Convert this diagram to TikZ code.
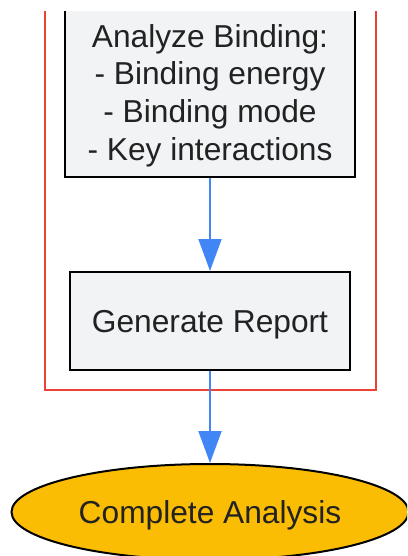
\documentclass[tikz,border=0pt]{standalone}
\usepackage{fontspec}
\setmainfont{Liberation Sans}
\usetikzlibrary{arrows.meta,shapes.geometric}
\definecolor{boxfill}{HTML}{F1F3F4}
\definecolor{txt}{HTML}{222222}
\definecolor{clusterred}{HTML}{EA4335}
\definecolor{flowblue}{HTML}{4285F4}
\definecolor{endyellow}{HTML}{FBBC04}
\tikzset{
  lbl/.style={text=txt, align=center, font=\fontsize{31.7}{37.7}\selectfont,
    inner sep=0pt, yshift=-4pt},
  procbox/.style={draw=black, line width=2pt, fill=boxfill, inner sep=0pt},
  endnode/.style={ellipse, draw=black, line width=2pt, fill=endyellow, inner sep=0pt},
  flow/.style={draw=flowblue, line width=2pt, -{Triangle[length=32pt,width=23pt]}},
  cluster/.style={draw=clusterred, line width=2pt}
}
\begin{document}
\begin{tikzpicture}[x=1pt,y=-1pt]
\useasboundingbox (0,0) rectangle (407,556);
\begin{scope}
\clip (0,12) rectangle (407,556);
\draw[cluster] (45,-10) -- (45,390) -- (376,390) -- (376,-10);
\node[procbox, minimum width=290pt, minimum height=171pt,
  label={[lbl]center:{Analyze Binding:\\- Binding energy\\- Binding mode\\- Key interactions}}]
  (analyze) at (210,91.5) {};
\node[procbox, minimum width=280pt, minimum height=98pt,
  label={[lbl]center:Generate Report}] (report) at (210,321) {};
\node[endnode, minimum width=397pt, minimum height=96pt,
  label={[lbl, yshift=1pt]center:Complete Analysis}] (done) at (210,512) {};
\draw[flow] (analyze.south) -- (report.north);
\draw[flow] (report.south) -- (done.north);
\end{scope}
\end{tikzpicture}
\end{document}
